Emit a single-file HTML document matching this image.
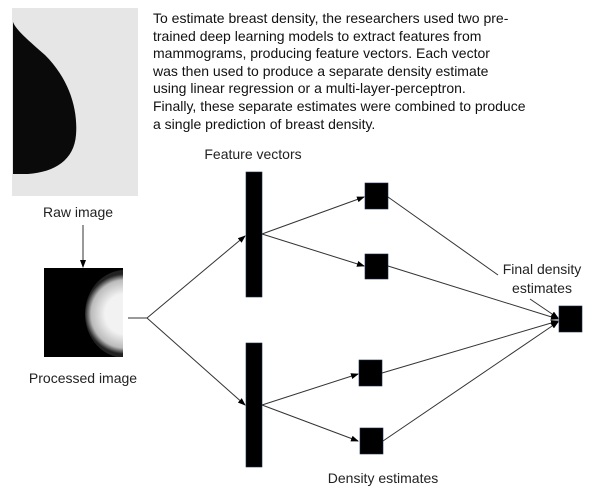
<!DOCTYPE html>
<html><head><style>
body{margin:0;width:600px;height:493px;background:#fff;position:relative;overflow:hidden;font-family:"Liberation Sans",sans-serif}
.p{position:absolute;left:153px;top:10px;font-size:14px;line-height:17.6px;color:#111;width:445px}
.l{position:absolute;font-size:14px;color:#222;white-space:nowrap;transform:translateX(-50%)}
</style></head><body>
<svg width="600" height="493" style="position:absolute;left:0;top:0">
<defs>
<marker id="a" markerWidth="8" markerHeight="6" refX="7" refY="3" orient="auto" markerUnits="userSpaceOnUse"><path d="M0,0L8,3L0,6z" fill="#000"/></marker>
<radialGradient id="g" gradientUnits="userSpaceOnUse" cx="125" cy="314" r="40"><stop offset="0.5" stop-color="#f2f2f2"/><stop offset="0.85" stop-color="#bbb"/><stop offset="1" stop-color="#222"/></radialGradient>
<clipPath id="c"><rect x="44" y="268" width="79" height="89"/></clipPath>
</defs>
<rect x="12" y="8" width="126" height="188" fill="#e6e6e6"/>
<path d="M13,22 C16,30 28,40 45,55 C70,80 78,110 76,135 C74,160 55,172 28,174 L13,174 Z" fill="#0a0a0a"/>
<rect x="44" y="268" width="79" height="89" fill="#000"/>
<ellipse cx="125" cy="314" rx="40" ry="44" fill="url(#g)" clip-path="url(#c)"/>
<g stroke="#333" stroke-width="1" fill="none">
<line x1="83" y1="225" x2="83" y2="267" marker-end="url(#a)"/>
<line x1="128" y1="318" x2="147" y2="318"/>
<line x1="147" y1="318" x2="245" y2="236" marker-end="url(#a)"/>
<line x1="147" y1="318" x2="245" y2="405" marker-end="url(#a)"/>
<line x1="262" y1="234" x2="364" y2="197" marker-end="url(#a)"/>
<line x1="262" y1="234" x2="364" y2="266" marker-end="url(#a)"/>
<line x1="262" y1="405" x2="358" y2="374" marker-end="url(#a)"/>
<line x1="262" y1="405" x2="358" y2="441" marker-end="url(#a)"/>
<line x1="388" y1="197" x2="498" y2="275"/>
<line x1="530" y1="299" x2="558" y2="318" marker-end="url(#a)"/>
<line x1="388" y1="266" x2="558" y2="319" marker-end="url(#a)"/>
<line x1="382" y1="373" x2="558" y2="321" marker-end="url(#a)"/>
<line x1="383" y1="441" x2="558" y2="322" marker-end="url(#a)"/>
</g>
<g fill="#000" stroke="#1a2a4a" stroke-width="0.6">
<rect x="246" y="172" width="16" height="125"/>
<rect x="246" y="343" width="16" height="124"/>
<rect x="365" y="183" width="23" height="26"/>
<rect x="365" y="254" width="23" height="25"/>
<rect x="359" y="360" width="23" height="26"/>
<rect x="360" y="428" width="23" height="26"/>
<rect x="559" y="306" width="23" height="26"/>
</g>
</svg>
<div class="p">To estimate breast density, the researchers used two pre-<br>trained deep learning models to extract features from<br>mammograms, producing feature vectors. Each vector<br>was then used to produce a separate density estimate<br>using linear regression or a multi-layer-perceptron.<br>Finally, these separate estimates were combined to produce<br>a single prediction of breast density.</div>
<div class="l" style="left:78px;top:204px">Raw image</div>
<div class="l" style="left:83px;top:370px">Processed image</div>
<div class="l" style="left:253px;top:146px">Feature vectors</div>
<div class="l" style="left:542px;top:260px;text-align:center;line-height:19px">Final density<br>estimates</div>
<div class="l" style="left:383px;top:470px">Density estimates</div>
</body></html>
